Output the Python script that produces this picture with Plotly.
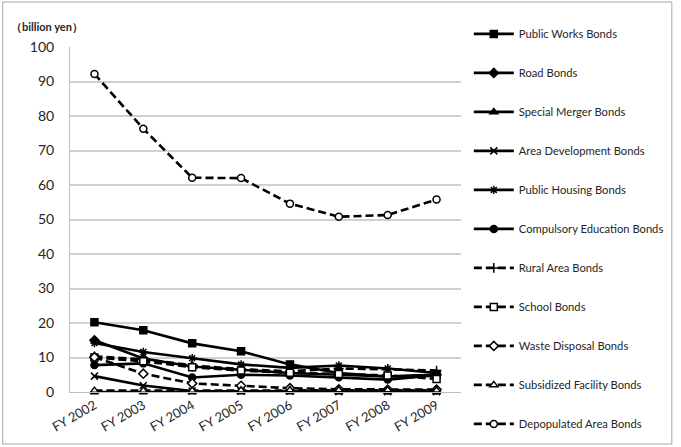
import plotly.graph_objects as go

# Fiscal years on the category axis
years = ["FY 2002", "FY 2003", "FY 2004", "FY 2005", "FY 2006", "FY 2007", "FY 2008", "FY 2009"]

# Outstanding amounts by bond type (billion yen)
public_works = [20.2, 17.9, 14.1, 11.8, 8.0, 5.5, 4.5, 5.0]
road = [15.0, 9.7, 7.4, 6.4, 5.5, 5.0, 4.5, 5.0]
special_merger = [0.0, 0.0, 0.0, 0.0, 0.0, 0.0, 0.0, 0.0]
area_development = [4.6, 1.9, 0.3, 0.2, 0.2, 0.1, 0.1, 0.1]
public_housing = [14.2, 11.6, 9.8, 8.0, 7.0, 7.7, 6.8, 5.5]
compulsory_education = [7.8, 8.3, 4.2, 5.0, 4.8, 4.3, 3.6, 4.9]
rural_area = [10.3, 9.5, 7.7, 6.6, 6.0, 6.8, 6.6, 6.2]
school = [10.0, 8.9, 7.2, 6.2, 5.6, 5.2, 4.8, 3.8]
waste_disposal = [10.1, 5.3, 2.5, 1.8, 1.1, 0.8, 0.7, 0.7]
subsidized_facility = [0.4, 0.4, 0.4, 0.5, 0.6, 0.6, 0.6, 0.5]
depopulated_area = [92.2, 76.3, 62.1, 62.0, 54.6, 50.8, 51.3, 55.8]

DASH = "8px,4px"
series = [
    ("Public Works Bonds", public_works, "solid", "square", "black"),
    ("Road Bonds", road, "solid", "diamond", "black"),
    ("Special Merger Bonds", special_merger, "solid", "triangle-up", "black"),
    ("Area Development Bonds", area_development, "solid", "x-thin", "black"),
    ("Public Housing Bonds", public_housing, "solid", "asterisk", "black"),
    ("Compulsory Education Bonds", compulsory_education, "solid", "circle", "black"),
    ("Rural Area Bonds", rural_area, DASH, "cross-thin", "black"),
    ("School Bonds", school, DASH, "square", "white"),
    ("Waste Disposal Bonds", waste_disposal, DASH, "diamond", "white"),
    ("Subsidized Facility Bonds", subsidized_facility, DASH, "triangle-up", "white"),
    ("Depopulated Area Bonds", depopulated_area, DASH, "circle", "white"),
]

fig = go.Figure()
for name, vals, dash, symbol, fill in series:
    fig.add_trace(go.Scatter(
        x=years, y=vals, name=name, mode="lines+markers",
        legendgroup=name, cliponaxis=False,
        line=dict(color="black", width=2.6, dash=dash),
        marker=dict(symbol=symbol, size=7, color=fill,
                    line=dict(color="black", width=1.5)),
    ))

L, R, T, B = 70, 216, 47, 55
W, H = 681, 447
pw, ph = W - L - R, H - T - B

fig.update_layout(
    width=W, height=H,
    margin=dict(l=L, r=R, t=T, b=B),
    paper_bgcolor="white", plot_bgcolor="white",
    font=dict(family="Lato, Open Sans, sans-serif", color="#262626"),
    showlegend=True,
    legend=dict(
        x=1.02, y=1.08, xanchor="left", yanchor="top",
        font=dict(size=11.2, color="#262626"),
        tracegroupgap=20, itemwidth=40, maxheight=600,
        bgcolor="rgba(0,0,0,0)",
    ),
    xaxis=dict(
        type="category", showgrid=False, showline=True, linecolor="#bfbfbf",
        linewidth=1, tickangle=-30, tickfont=dict(size=13, color="#262626"),
        ticks="", range=[-0.5, 7.5],
    ),
    yaxis=dict(
        range=[0, 100], dtick=10, showgrid=True, gridcolor="#d0d0d0",
        gridwidth=1.5, showline=True, linecolor="#bfbfbf", linewidth=1,
        tickfont=dict(size=14, color="#262626"), ticks="",
        ticklabelstandoff=12, zeroline=False,
    ),
    annotations=[dict(
        text="<b>（billion yen）</b>", x=(8 - L) / pw, y=1 + (T - 27) / ph,
        xref="paper", yref="paper", xanchor="left", yanchor="middle",
        showarrow=False, font=dict(size=11, color="#262626"),
    )],
    shapes=[dict(
        type="rect", xref="paper", yref="paper",
        x0=(2 - L) / pw, x1=(W - 3 - L) / pw,
        y0=-(H - 3 - T - ph) / ph, y1=1 + (T - 2) / ph,
        line=dict(color="#a6a6a6", width=1), layer="below",
    )],
)

fig.write_html("out.html")
